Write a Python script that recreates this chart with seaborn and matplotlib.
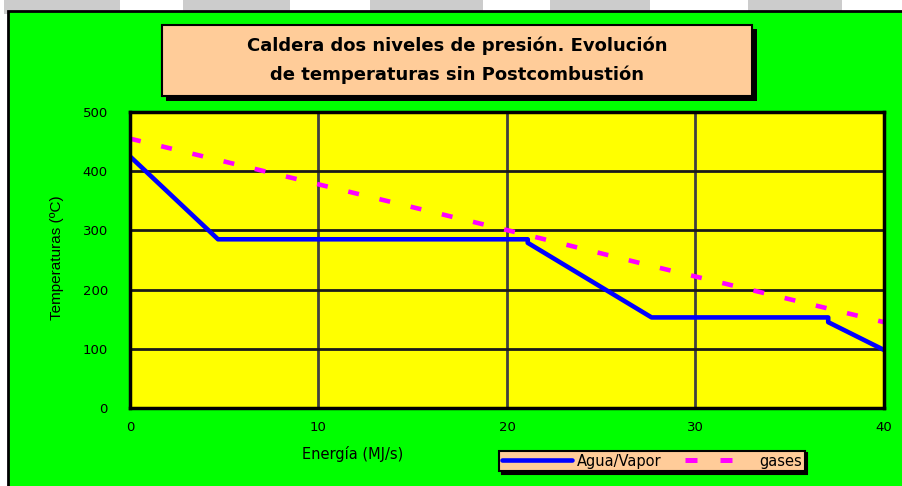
import matplotlib
matplotlib.use("Agg")
import matplotlib.pyplot as plt
from matplotlib.patches import Rectangle, Ellipse
import pandas as pd
import seaborn as sns

# --- data -------------------------------------------------------------
series = ["Agua/Vapor", "gases"]
energia_agua = [0, 4.67, 21.1, 21.1, 27.67, 37.04, 37.04, 40]
temp_agua = [425, 285, 285, 279, 153, 153, 145, 98]
energia_gases = [0, 4.67, 21.1, 27.67, 37.04, 40]
temp_gases = [455, 419, 292, 240, 168, 145]
x_ticks = [0, 10, 20, 30, 40]
y_ticks = [0, 100, 200, 300, 400, 500]
titulo = ["Caldera dos niveles de presión. Evolución",
          "de temperaturas sin Postcombustión"]
x_label = "Energía (MJ/s)"
y_label = "Temperaturas (ºC)"

df = pd.concat([
    pd.DataFrame({"Energía": energia_agua, "Temperatura": temp_agua, "serie": series[0]}),
    pd.DataFrame({"Energía": energia_gases, "Temperatura": temp_gases, "serie": series[1]}),
], ignore_index=True)

GAS_DASH = (0, (2.4, 4.6))

# --- figure -----------------------------------------------------------
sns.set_theme(style="white")
plt.rcParams["font.family"] = ["DejaVu Sans"]

W, H = 903, 486
fig = plt.figure(figsize=(W / 100, H / 100), dpi=100, facecolor="white")


def fx(px):
    return px / W


def fy(py):
    return 1 - py / H


def box(x0, y0, x1, y1, **kw):
    r = Rectangle((fx(x0), fy(y1)), fx(x1) - fx(x0), fy(y0) - fy(y1),
                  transform=fig.transFigure, **kw)
    fig.patches.append(r)
    return r


# light grey background shapes along the top edge
for a, b in [(4, 120), (183, 290), (370, 483), (550, 650), (748, 842)]:
    box(a, -5, b, 14, facecolor="#cccccc", edgecolor="none", zorder=-10)
for cx in (151, 516):
    fig.patches.append(Ellipse((fx(cx), fy(30)), 70 / W, 56 / H,
                               transform=fig.transFigure, facecolor="white",
                               edgecolor="none", zorder=-9))

# green chart area
box(8, 11, 910, 495, facecolor="#00ff00", edgecolor="black", linewidth=2, zorder=-5)

# title box with drop shadow
box(166, 29, 757, 101, facecolor="black", edgecolor="none", zorder=1)
box(162, 25, 752, 96, facecolor="#ffcc99", edgecolor="black", linewidth=1.5, zorder=2)
for i, line in enumerate(titulo):
    fig.text(fx(457), fy(46 + 29 * i), line, ha="center", va="center",
             fontsize=13, fontweight="bold", color="black", zorder=3)

# --- plot area ----------------------------------------------------------
ax = fig.add_axes([fx(130), fy(408), fx(884) - fx(130), (408 - 112) / H])
ax.set_facecolor("#ffff00")

sns.lineplot(data=df, x="Energía", y="Temperatura", hue="serie", style="serie",
             palette={series[0]: "#0000ff", series[1]: "#ff00ff"},
             dashes={series[0]: "", series[1]: (2.4, 4.6)},
             sort=False, estimator=None, linewidth=3.3, ax=ax)
for ln in ax.lines:
    if ln.get_label() == series[1] or tuple(ln.get_color()[:3]) == (1.0, 0.0, 1.0):
        ln.set_linewidth(3.6)
        ln.set_linestyle(GAS_DASH)

ax.set_xlim(0, 40)
ax.set_ylim(0, 500)
ax.set_xticks(x_ticks)
ax.set_yticks(y_ticks)
ax.set_xticklabels([str(v) for v in x_ticks])
ax.set_yticklabels([str(v) for v in y_ticks])
ax.tick_params(axis="both", length=0, labelsize=9.5, colors="black")
ax.tick_params(axis="y", pad=16)
ax.tick_params(axis="x", pad=9.5)

ax.yaxis.grid(True, color="#1a1a1a", linewidth=2)
ax.xaxis.grid(True, color="#404040", linewidth=2)
ax.set_axisbelow(True)
for s in ax.spines.values():
    s.set_visible(True)
    s.set_color("black")
    s.set_linewidth(2.5)

ax.set_xlabel(x_label, fontsize=10.5, color="black")
ax.xaxis.set_label_coords((353 - 130) / 754, -(446 - 408) / 296)
ax.set_ylabel(y_label, fontsize=11, color="black", family=["Liberation Sans", "DejaVu Sans"])
ax.yaxis.set_label_coords((64 - 130) / 754, (408 - 258) / 296)

handles, labels = ax.get_legend_handles_labels()
keep = [(h, l) for h, l in zip(handles, labels) if l in series]
leg = ax.legend([h for h, _ in keep], [l for _, l in keep], ncol=2, loc="center",
                bbox_to_anchor=(fx(652), fy(461)), bbox_transform=fig.transFigure,
                frameon=True, fancybox=False, facecolor="#ffcc99", edgecolor="black",
                framealpha=1, shadow={"color": "black", "alpha": 1},
                handlelength=4.8, handletextpad=0.3, columnspacing=1.6,
                borderpad=0.2, fontsize=10.5)
leg.get_frame().set_linewidth(1.5)
for t in leg.get_texts():
    t.set_color("black")
for h, t in zip(leg.get_lines(), leg.get_texts()):
    if t.get_text() == series[1]:
        h.set_linewidth(3.6)
        h.set_linestyle(GAS_DASH)
    else:
        h.set_linewidth(3.3)
        h.set_linestyle("-")

fig.savefig("out.png", dpi=100, facecolor=fig.get_facecolor())
